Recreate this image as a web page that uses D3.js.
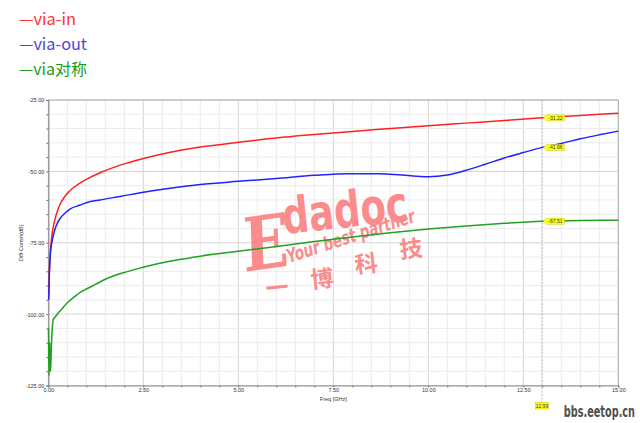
<!DOCTYPE html>
<html><head><meta charset="utf-8">
<script src="https://cdn.jsdelivr.net/npm/d3@7"></script>
<style>html,body{margin:0;padding:0;background:#fff;}svg{display:block;}</style>
</head><body>
<svg id="c" width="640" height="423"></svg>
<script>
// ---- data ----
const seriesNames = ["via-in", "via-out", "via对称"];
const viaInFreq = [0.01,0.03,0.05,0.09,0.13,0.18,0.25,0.31,0.45,0.57,0.7,0.84,1.0,1.36,1.89,2.5,3,4,5,6,7,8,9,10,11,12,13,14,15];
const viaInVal  = [-93,-84,-79,-73,-69.5,-66.5,-63.5,-61.5,-58.5,-56.8,-55.3,-54,-52.8,-50.5,-47.8,-45.5,-43.9,-41.5,-39.8,-38.3,-37.1,-36,-35,-34,-33.1,-32.2,-31.2,-30.4,-29.6];
const viaOutFreq = [0.01,0.03,0.06,0.1,0.14,0.2,0.31,0.45,0.57,0.84,1.0,1.36,1.89,2.5,3,3.5,4,5,6,7,7.9,8.7,9.3,10,10.5,11,11.5,12,12.5,13,13.5,14,14.5,15];
const viaOutVal  = [-95,-85,-78,-74.5,-72,-69.3,-66.5,-64.5,-63.2,-61.8,-61,-60,-58.8,-57.3,-56.3,-55.4,-54.6,-53.5,-52.5,-51.4,-50.8,-50.8,-51.3,-51.9,-51.3,-49.6,-47.5,-45.3,-43.4,-41.6,-40.2,-38.6,-37.2,-35.9];
const viaSymFreq = [0.005,0.01,0.02,0.03,0.04,0.05,0.06,0.08,0.1,0.13,0.18,0.25,0.35,0.5,0.7,0.85,1.0,1.25,1.5,2.0,2.5,3.0,3.5,4.0,5.0,6.0,7.0,8.0,9.0,10,11,12,13,14,15];
const viaSymVal  = [-105,-112,-121.5,-115,-110,-118,-120,-112,-106,-102,-101,-99.8,-98.3,-96,-93.8,-92.3,-91.2,-89.5,-87.8,-85.4,-83.6,-82,-80.8,-79.7,-78,-76.3,-74.6,-73,-71.5,-70.2,-69.1,-68.2,-67.5,-67.2,-67.1];
const markerFreq = 12.99;
const markerValues = [-31.22, -41.66, -67.51];
const xTickLabels = ["0.00","2.50","5.00","7.50","10.00","12.50","15.00"];
const yTickLabels = ["-25.00","-50.00","-75.00","-100.00","-125.00"];

const colors = ["#ff2020", "#2222ff", "#22a022"];
const legendColors = ["#ff3333", "#4848d8", "#1c9a1c"];

const svg = d3.select("#c");
const x = d3.scaleLinear().domain([0, 15]).range([48.3, 618.3]);
const y = d3.scaleLinear().domain([-125, -25]).range([385.5, 100]);

// grid
const g = svg.append("g");
const xMinor = d3.range(0, 15.001, 0.5);
const yMinor = d3.range(-125, -24.999, 5);
g.selectAll(".vx").data(xMinor).join("line")
  .attr("x1", d => x(d)).attr("x2", d => x(d)).attr("y1", y(-25)).attr("y2", y(-125))
  .attr("stroke", d => Math.abs(d / 2.5 - Math.round(d / 2.5)) < 1e-6 ? "#d4d4d4" : "#ececec").attr("stroke-width", 1);
g.selectAll(".hy").data(yMinor).join("line")
  .attr("x1", x(0)).attr("x2", x(15)).attr("y1", d => y(d)).attr("y2", d => y(d))
  .attr("stroke", d => d % 25 === 0 ? "#d4d4d4" : "#ececec").attr("stroke-width", 1);

// frame
g.append("line").attr("x1", x(0)).attr("x2", x(15)).attr("y1", y(-25)).attr("y2", y(-25)).attr("stroke", "#b0b0b0");
g.append("line").attr("x1", x(15)).attr("x2", x(15)).attr("y1", y(-25)).attr("y2", y(-125)).attr("stroke", "#b0b0b0");

// watermark
const wm = svg.append("g").attr("fill", "#fb8c8c");
wm.append("text").attr("x", 0).attr("y", 0).attr("font-family", "DejaVu Serif").attr("font-weight", "bold")
  .attr("font-size", 74).attr("textLength", 46).attr("lengthAdjust", "spacingAndGlyphs")
  .attr("transform", "translate(244,272) rotate(-8) skewX(-6)").text("E");
wm.append("text").attr("x", 0).attr("y", 0).attr("font-family", "DejaVu Sans").attr("font-weight", "bold")
  .attr("font-size", 50).attr("textLength", 126).attr("lengthAdjust", "spacingAndGlyphs")
  .attr("transform", "translate(284,234) rotate(-6)").text("dadoc");
wm.append("text").attr("x", 0).attr("y", 0).attr("font-family", "DejaVu Sans").attr("font-weight", "bold").attr("font-style", "italic")
  .attr("font-size", 19).attr("textLength", 134).attr("lengthAdjust", "spacingAndGlyphs")
  .attr("transform", "translate(289,263) rotate(-18)").text("Your best partner");
const cj = [["一",277,286],["博",322,277],["科",366,262],["技",411,247]];
cj.forEach(d => {
  wm.append("text").attr("x", 0).attr("y", 0).attr("text-anchor", "middle").attr("dominant-baseline", "central")
    .attr("font-family", "Noto Sans CJK SC").attr("font-weight", "bold").attr("font-size", 23)
    .attr("transform", `translate(${d[1]},${d[2]}) rotate(-6)`).text(d[0]);
});

// axes
const xAxis = d3.axisBottom(x).tickValues(xMinor).tickSize(2)
  .tickFormat(d => { const i = Math.round(d / 2.5); return Math.abs(d / 2.5 - i) < 1e-6 ? xTickLabels[i] : ""; });
const xa = svg.append("g").attr("transform", `translate(0,${y(-125)})`).call(xAxis);
const yAxis = d3.axisLeft(y).tickValues(yMinor).tickSize(2)
  .tickFormat(d => d % 25 === 0 ? yTickLabels[(-25 - d) / 25] : "");
const ya = svg.append("g").attr("transform", `translate(${x(0)},0)`).call(yAxis);
[xa, ya].forEach(a => {
  a.select(".domain").attr("stroke", "#8a8a8a").attr("stroke-width", 1.2);
  a.selectAll(".tick line").attr("stroke", "#777");
  a.selectAll("text").attr("font-family", "Liberation Sans").attr("font-size", 5.5).attr("fill", "#333");
});
xa.selectAll("text").attr("y", 3).attr("dy", "0.71em");
ya.selectAll("text").attr("dy", "0.35em").attr("x", -4);

svg.append("text").attr("x", x(7.5)).attr("y", 400.5).attr("text-anchor", "middle")
  .attr("font-family", "Liberation Sans").attr("font-size", 5.5).attr("fill", "#333").text("Freq [GHz]");
svg.append("text").attr("transform", `translate(23,${y(-75)}) rotate(-90)`).attr("text-anchor", "middle")
  .attr("font-family", "Liberation Sans").attr("font-size", 5.5).attr("fill", "#333").text("Diff-Comm(dB)");

// marker line
svg.append("line").attr("x1", x(markerFreq)).attr("x2", x(markerFreq)).attr("y1", y(-25)).attr("y2", 403)
  .attr("stroke", "#aaa").attr("stroke-dasharray", "2,1.5").attr("stroke-width", 0.8);

// curves
const line = d3.line().x(d => x(d[0])).y(d => y(d[1])).curve(d3.curveMonotoneX);
const allSeries = [
  d3.zip(viaInFreq, viaInVal),
  d3.zip(viaOutFreq, viaOutVal),
  d3.zip(viaSymFreq, viaSymVal)
];
svg.selectAll(".curve").data(allSeries).join("path")
  .attr("d", line).attr("fill", "none")
  .attr("stroke", (d, i) => colors[i]).attr("stroke-width", 1.5);

// marker labels
markerValues.forEach(v => {
  const mx = x(markerFreq) + 1.5, my = y(v);
  svg.append("path")
    .attr("d", `M${mx},${my} L${mx + 3},${my - 3} L${mx + 21},${my - 3} L${mx + 21},${my + 3} L${mx + 3},${my + 3} Z`)
    .attr("fill", "#ffff22").attr("stroke", "#c8c800").attr("stroke-width", 0.5);
  svg.append("text").attr("x", mx + 12).attr("y", my).attr("dy", "0.35em").attr("text-anchor", "middle")
    .attr("font-family", "Liberation Sans").attr("font-size", 5).attr("fill", "#333").text(v.toFixed(2));
});
const bx = x(markerFreq);
svg.append("rect").attr("x", bx - 6.5).attr("y", 402.5).attr("width", 13).attr("height", 6.5)
  .attr("fill", "#ffff22").attr("stroke", "#c8c800").attr("stroke-width", 0.5);
svg.append("text").attr("x", bx).attr("y", 405.8).attr("dy", "0.35em").attr("text-anchor", "middle")
  .attr("font-family", "Liberation Sans").attr("font-size", 5).attr("fill", "#333").text(markerFreq.toFixed(2));

// legend
const legLen = [57, 68, 68];
seriesNames.forEach((n, i) => {
  svg.append("text").attr("x", 19).attr("y", 25 + i * 25)
    .attr("font-family", "Noto Sans CJK SC").attr("font-size", 16).attr("fill", legendColors[i])
    .attr("textLength", legLen[i]).attr("lengthAdjust", "spacingAndGlyphs").text("—" + n);
});

// site watermark
svg.append("text").attr("x", 0).attr("y", 0).attr("text-anchor", "end")
  .attr("transform", "translate(635,417) scale(0.72,1.05)")
  .attr("font-family", "DejaVu Sans Condensed").attr("font-weight", "bold").attr("font-size", 15)
  .attr("fill", "#505050").text("bbs.eetop.cn");
</script>
</body></html>
